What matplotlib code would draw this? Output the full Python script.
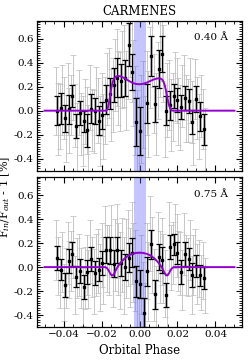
import numpy as np
import matplotlib
matplotlib.use("Agg")
import matplotlib.pyplot as plt
from matplotlib.ticker import MultipleLocator, FormatStrFormatter

plt.rcParams['font.family'] = 'DejaVu Serif'
plt.rcParams['mathtext.fontset'] = 'dejavuserif'

# binned phases (black points)
phase = [-0.0433, -0.0413, -0.0393, -0.0374, -0.0354, -0.0334, -0.0314, -0.0294,
         -0.0274, -0.0255, -0.0235, -0.0215, -0.0195, -0.0175, -0.0156, -0.0136,
         -0.0116, -0.0096, -0.0076, -0.0057, -0.0037, -0.0017, 0.0002, 0.0022,
         0.0042, 0.0062, 0.0081, 0.0101, 0.0121, 0.0141, 0.0160, 0.0180,
         0.0200, 0.0220, 0.0240, 0.0259, 0.0279, 0.0299, 0.0319, 0.0339]

top_val = [0.0, 0.02, -0.065, 0.01, 0.12, -0.13, -0.02, -0.09,
           -0.165, 0.015, -0.005, -0.085, -0.04, 0.09, 0.14, 0.215,
           0.275, 0.25, 0.27, 0.55, 0.325, -0.095, -0.17, np.nan,
           0.06, 0.455, 0.055, 0.345, 0.475, 0.0, 0.045, 0.12,
           0.085, 0.03, 0.105, 0.084, -0.095, 0.098, -0.047, -0.155]
top_err = [0.12, 0.13, 0.11, 0.12, 0.09, 0.1, 0.1, 0.09,
           0.14, 0.12, 0.11, 0.12, 0.11, 0.12, 0.13, 0.14,
           0.16, 0.14, 0.15, 0.18, 0.15, 0.2, 0.2, 0.2,
           0.16, 0.17, 0.15, 0.16, 0.15, 0.12, 0.12, 0.1,
           0.1, 0.1, 0.1, 0.1, 0.1, 0.11, 0.12, 0.13]

bot_val = [0.075, -0.02, -0.15, 0.05, 0.11, -0.08, -0.035, -0.17,
           -0.04, 0.065, -0.05, -0.02, 0.035, 0.145, 0.14, 0.03,
           0.145, 0.035, 0.0, 0.08, 0.12, -0.12, -0.14, -0.38,
           -0.036, 0.19, -0.226, 0.084, 0.06, -0.23, 0.17, 0.19,
           0.117, -0.04, 0.106, 0.07, -0.064, 0.008, -0.07, -0.09]
bot_err = [0.1, 0.09, 0.1, 0.1, 0.1, 0.09, 0.1, 0.1,
           0.1, 0.1, 0.1, 0.1, 0.1, 0.11, 0.11, 0.11,
           0.11, 0.11, 0.11, 0.12, 0.12, 0.13, 0.12, 0.12,
           0.12, 0.12, 0.12, 0.11, 0.11, 0.1, 0.1, 0.09,
           0.09, 0.1, 0.1, 0.09, 0.1, 0.09, 0.09, 0.09]

# unbinned (grey) points
gphase = [-0.0438, -0.0428, -0.0418, -0.0408, -0.0398, -0.0388, -0.0379, -0.0369,
          -0.0359, -0.0349, -0.0339, -0.0329, -0.0319, -0.0309, -0.0299, -0.0289,
          -0.0279, -0.0269, -0.0260, -0.0250, -0.0240, -0.0230, -0.0220, -0.0210,
          -0.0200, -0.0190, -0.0180, -0.0170, -0.0161, -0.0151, -0.0141, -0.0131,
          -0.0121, -0.0111, -0.0101, -0.0091, -0.0081, -0.0071, -0.0062, -0.0052,
          -0.0042, -0.0032, -0.0022, -0.0012, -0.0003, 0.0007, 0.0017, 0.0027,
          0.0037, 0.0047, 0.0057, 0.0067, 0.0076, 0.0086, 0.0096, 0.0106,
          0.0116, 0.0126, 0.0136, 0.0146, 0.0155, 0.0165, 0.0175, 0.0185,
          0.0195, 0.0205, 0.0215, 0.0225, 0.0235, 0.0245, 0.0254, 0.0264,
          0.0274, 0.0284, 0.0294, 0.0304, 0.0314, 0.0324, 0.0334, 0.0344]
gtop_val = [0.08, -0.07, -0.05, 0.09, 0.02, -0.15, 0.10, -0.08,
            0.05, 0.19, -0.04, -0.22, 0.07, -0.11, -0.17, -0.01,
            -0.08, -0.25, 0.11, -0.08, -0.09, 0.08, 0.0, -0.17,
            0.05, -0.13, 0.0, 0.18, 0.23, 0.05, 0.13, 0.30,
            0.36, 0.19, 0.16, 0.34, 0.37, 0.17, 0.45, 0.62,
            0.42, 0.23, 0.0, -0.19, -0.27, -0.07, 0.05, -0.25,
            0.15, -0.03, 0.36, 0.55, 0.14, -0.03, 0.25, 0.44,
            0.56, 0.39, -0.09, 0.09, 0.13, -0.04, 0.03, 0.20,
            0.17, -0.01, -0.06, 0.12, 0.19, 0.02, 0.0, 0.17,
            -0.01, -0.18, 0.18, 0.02, -0.13, 0.04, -0.07, -0.24]
gtop_err = [0.28, 0.3, 0.27, 0.29, 0.26, 0.28, 0.3, 0.27,
            0.25, 0.27, 0.26, 0.28, 0.27, 0.26, 0.29, 0.27,
            0.28, 0.3, 0.27, 0.26, 0.26, 0.28, 0.27, 0.29,
            0.26, 0.27, 0.28, 0.3, 0.29, 0.3, 0.31, 0.3,
            0.32, 0.31, 0.33, 0.32, 0.34, 0.33, 0.35, 0.34,
            0.35, 0.36, 0.37, 0.36, 0.38, 0.37, 0.36, 0.37,
            0.35, 0.36, 0.34, 0.35, 0.33, 0.34, 0.32, 0.33,
            0.31, 0.32, 0.3, 0.31, 0.29, 0.3, 0.28, 0.29,
            0.27, 0.28, 0.27, 0.26, 0.27, 0.28, 0.26, 0.27,
            0.26, 0.27, 0.25, 0.26, 0.27, 0.26, 0.25, 0.26]
gbot_val = [0.14, 0.01, -0.08, 0.04, -0.21, -0.09, 0.12, -0.02,
            0.05, 0.17, -0.15, -0.01, 0.02, -0.09, -0.25, -0.09,
            0.02, -0.10, 0.13, 0.0, -0.12, 0.02, 0.05, -0.09,
            0.10, -0.03, 0.22, 0.07, 0.06, 0.22, -0.04, 0.10,
            0.22, 0.07, -0.03, 0.10, -0.07, 0.07, 0.16, 0.0,
            0.20, 0.04, -0.03, -0.21, -0.22, -0.06, -0.30, -0.46,
            0.05, -0.12, 0.28, 0.10, -0.15, -0.30, 0.17, 0.0,
            0.13, -0.01, -0.14, -0.32, 0.26, 0.08, 0.12, 0.26,
            0.18, 0.05, 0.03, -0.11, 0.19, 0.02, 0.0, 0.14,
            -0.15, 0.02, 0.08, -0.06, -0.01, -0.13, -0.03, -0.15]
gbot_err = [0.25, 0.24, 0.26, 0.25, 0.24, 0.25, 0.26, 0.24,
            0.25, 0.26, 0.24, 0.25, 0.26, 0.25, 0.24, 0.26,
            0.25, 0.24, 0.26, 0.25, 0.27, 0.26, 0.27, 0.28,
            0.27, 0.28, 0.29, 0.28, 0.29, 0.3, 0.29, 0.3,
            0.31, 0.3, 0.32, 0.31, 0.32, 0.33, 0.32, 0.33,
            0.34, 0.33, 0.34, 0.33, 0.34, 0.33, 0.34, 0.33,
            0.32, 0.33, 0.31, 0.32, 0.3, 0.31, 0.29, 0.3,
            0.28, 0.29, 0.28, 0.27, 0.28, 0.27, 0.26, 0.27,
            0.26, 0.25, 0.26, 0.25, 0.26, 0.25, 0.24, 0.25,
            0.24, 0.25, 0.24, 0.25, 0.24, 0.23, 0.24, 0.23]

# models
mod_top_x = [-0.050, -0.0175, -0.017, -0.0165, -0.016, -0.0155, -0.015, -0.0145, -0.014,
             -0.0135, -0.013, -0.012, -0.011, -0.010, -0.008, -0.006, -0.004, -0.002,
             0.0, 0.002, 0.004, 0.006, 0.008, 0.010, 0.011, 0.012, 0.0125, 0.013,
             0.0135, 0.014, 0.0145, 0.015, 0.0155, 0.016, 0.0165, 0.017, 0.0175, 0.050]
mod_top_y = [0.0, 0.0, 0.01, 0.035, 0.075, 0.125, 0.175, 0.215, 0.245,
             0.265, 0.278, 0.287, 0.289, 0.286, 0.272, 0.252, 0.234, 0.223,
             0.220, 0.224, 0.235, 0.250, 0.263, 0.270, 0.268, 0.258, 0.245, 0.226,
             0.198, 0.163, 0.122, 0.082, 0.048, 0.024, 0.009, 0.002, 0.0, 0.0]
mod_bot_x = [-0.050, -0.018, -0.0172, -0.0165, -0.016, -0.0155, -0.015, -0.0145, -0.014,
             -0.0135, -0.013, -0.0125, -0.012, -0.011, -0.010, -0.008, -0.006, -0.004,
             -0.002, 0.0, 0.002, 0.004, 0.006, 0.008, 0.010, 0.011, 0.012, 0.0125,
             0.013, 0.0135, 0.014, 0.0145, 0.015, 0.0155, 0.016, 0.0165, 0.0172, 0.018, 0.050]
mod_bot_y = [0.0, 0.0, -0.008, -0.022, -0.036, -0.052, -0.064, -0.070, -0.068,
             -0.058, -0.043, -0.026, -0.010, 0.015, 0.036, 0.070, 0.095, 0.110,
             0.118, 0.121, 0.118, 0.110, 0.095, 0.070, 0.036, 0.015, -0.010, -0.026,
             -0.043, -0.058, -0.068, -0.070, -0.064, -0.052, -0.036, -0.022, -0.008, 0.0, 0.0]

band = (-0.003, 0.0035)
labels = ['0.40 Å', '0.75 Å']

fig = plt.figure(figsize=(2.49, 3.6), dpi=100)
ax1 = fig.add_axes([0.1486, 0.526, 0.8234, 0.4165])
ax2 = fig.add_axes([0.1486, 0.0917, 0.8234, 0.4158])

panels = [(ax1, top_val, top_err, gtop_val, gtop_err, mod_top_x, mod_top_y),
          (ax2, bot_val, bot_err, gbot_val, gbot_err, mod_bot_x, mod_bot_y)]

for i, (ax, v, e, gv, ge, mx, my) in enumerate(panels):
    ax.errorbar(gphase, gv, yerr=ge, fmt='none', ecolor='#bdbdbd', elinewidth=0.7,
                capsize=2, capthick=0.6, alpha=0.85, zorder=1)
    ax.axvspan(band[0], band[1], color='#6464ff', alpha=0.38, lw=0, zorder=2)
    ax.plot(mx, my, color='#9400d3', lw=1.4, zorder=4)
    ax.errorbar(phase, v, yerr=e, fmt='s', color='black', ms=2, elinewidth=0.9,
                capsize=2.5, capthick=0.9, zorder=3)
    ax.set_xlim(-0.054, 0.054)
    ax.set_ylim(-0.5, 0.75)
    ax.xaxis.set_major_locator(MultipleLocator(0.02))
    ax.xaxis.set_minor_locator(MultipleLocator(0.005))
    ax.yaxis.set_major_locator(MultipleLocator(0.2))
    ax.yaxis.set_minor_locator(MultipleLocator(0.02))
    ax.yaxis.set_major_formatter(FormatStrFormatter('%.1f'))
    ax.tick_params(which='both', direction='in', top=True, right=True, labelsize=7.5,
                   pad=2.5)
    ax.tick_params(which='major', length=4, width=0.8)
    ax.tick_params(which='minor', length=2, width=0.6)
    for s in ax.spines.values():
        s.set_linewidth(0.9)
    ax.text(0.93, 0.885, labels[i], transform=ax.transAxes, ha='right', va='center',
            fontsize=7.5)

ax1.tick_params(labelbottom=False)
ax1.set_title('CARMENES', fontsize=8.5, pad=4)
ax2.set_xlabel('Orbital Phase', fontsize=8.5, labelpad=3)
fig.text(0.022, 0.453, r'F$_{in}$/F$_{out}$ - 1 [%]', rotation=90, ha='center',
         va='center', fontsize=8)

fig.savefig('out.png', dpi=100)
